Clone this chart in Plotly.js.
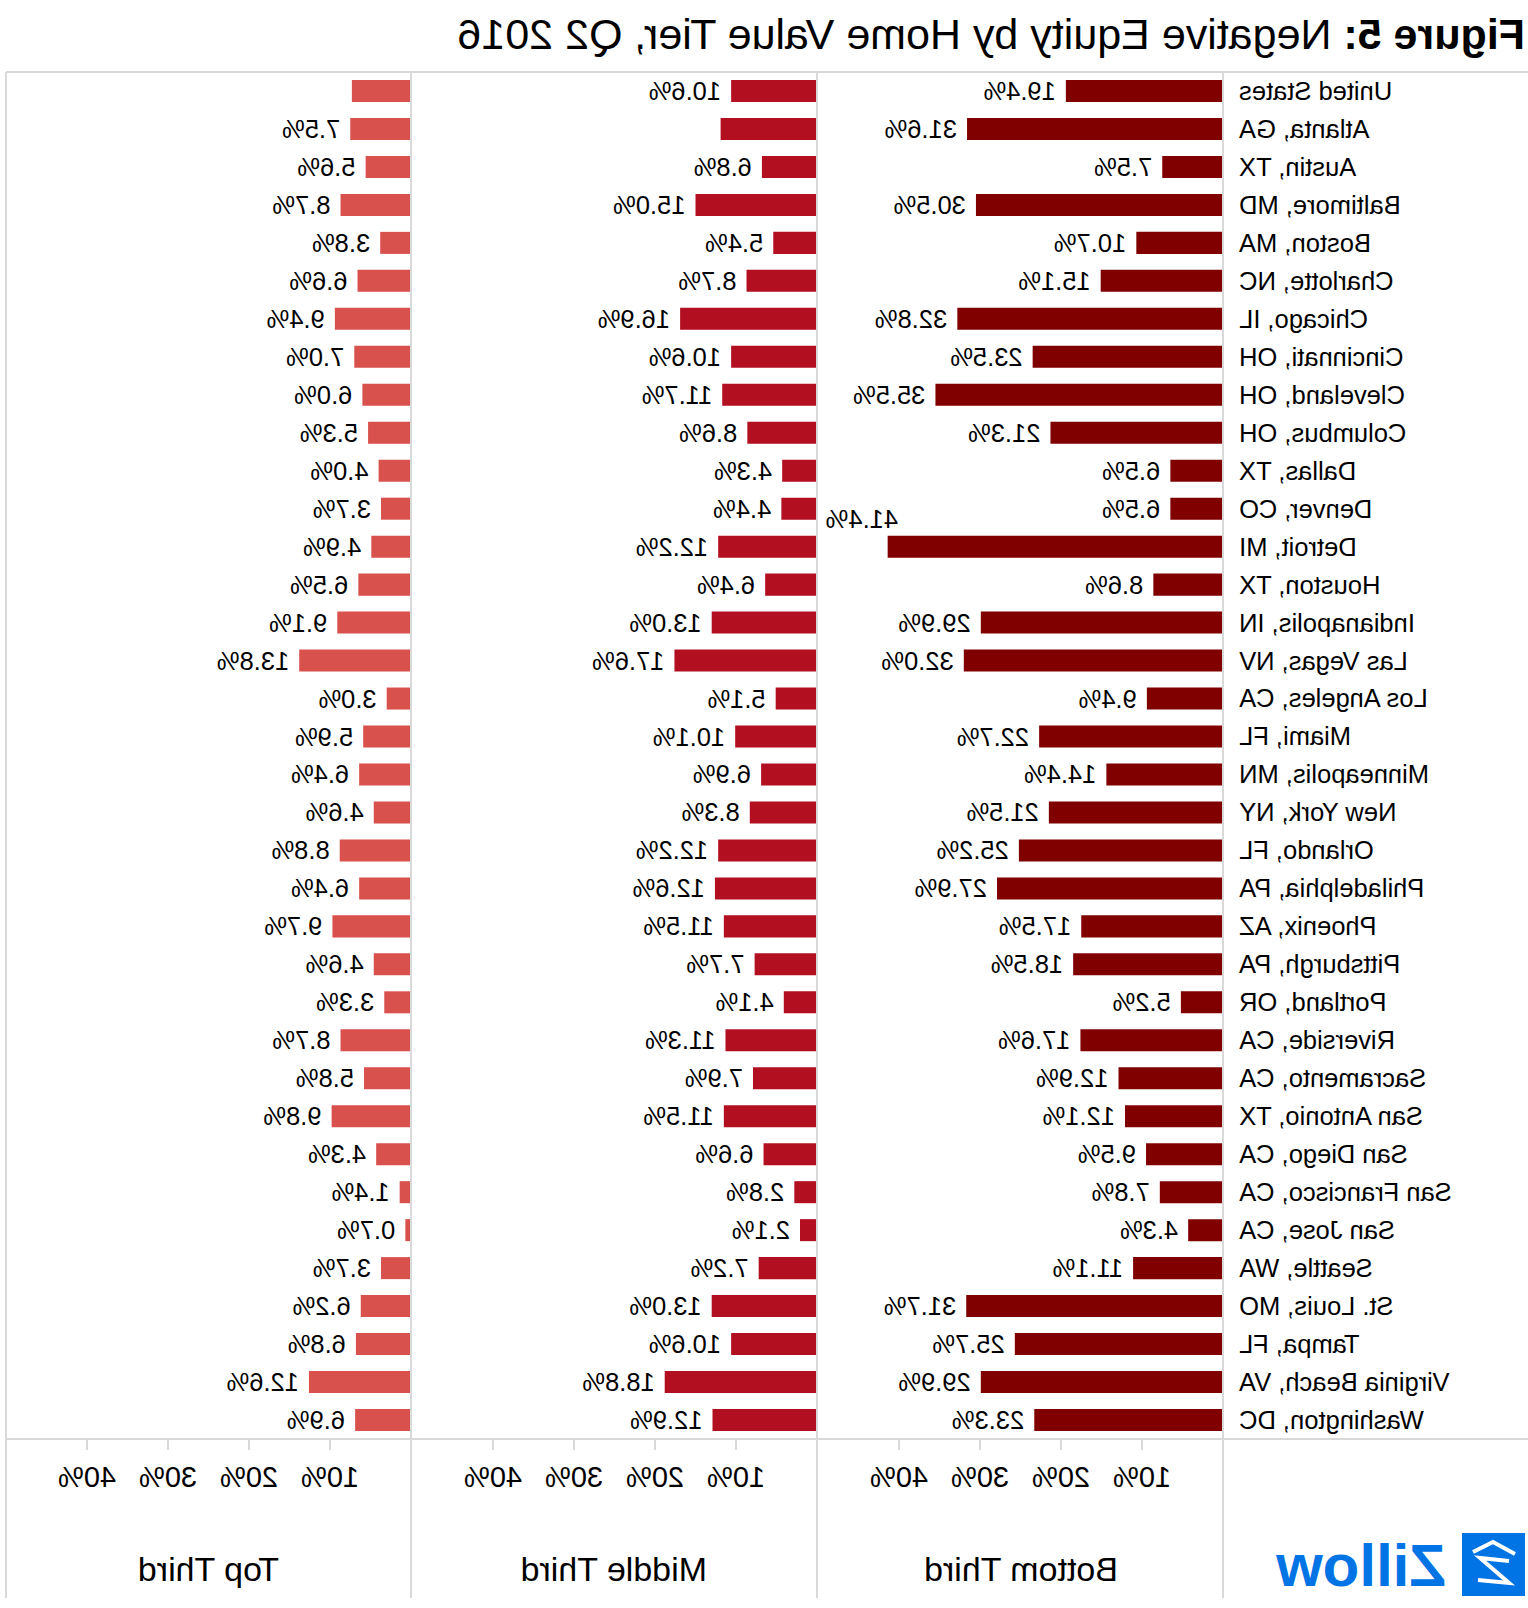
<!DOCTYPE html>
<html>
<head>
<meta charset="utf-8">
<script src="https://cdn.plot.ly/plotly-3.0.1.min.js"></script>
<style>
  body { margin: 0; background: #fff; }
  /* the reference picture is a mirror image, so flip the whole chart */
  #chart { width: 1528px; height: 1608px; transform: scaleX(-1); }
</style>
</head>
<body>
<div id="chart"></div>
<script>
var cities = ["United States", "Atlanta, GA", "Austin, TX", "Baltimore, MD", "Boston, MA",
  "Charlotte, NC", "Chicago, IL", "Cincinnati, OH", "Cleveland, OH", "Columbus, OH",
  "Dallas, TX", "Denver, CO", "Detroit, MI", "Houston, TX", "Indianapolis, IN",
  "Las Vegas, NV", "Los Angeles, CA", "Miami, FL", "Minneapolis, MN", "New York, NY",
  "Orlando, FL", "Philadelphia, PA", "Phoenix, AZ", "Pittsburgh, PA", "Portland, OR",
  "Riverside, CA", "Sacramento, CA", "San Antonio, TX", "San Diego, CA", "San Francisco, CA",
  "San Jose, CA", "Seattle, WA", "St. Louis, MO", "Tampa, FL", "Virginia Beach, VA",
  "Washington, DC"];

var bottomThird = [19.4, 31.6, 7.5, 30.5, 10.7, 15.1, 32.8, 23.5, 35.5, 21.3,
  6.5, 6.5, 41.4, 8.6, 29.9, 32.0, 9.4, 22.7, 14.4, 21.5,
  25.2, 27.9, 17.5, 18.5, 5.2, 17.6, 12.9, 12.1, 9.5, 7.8,
  4.3, 11.1, 31.7, 25.7, 29.9, 23.3];

var middleThird = [10.6, 11.9, 6.8, 15.0, 5.4, 8.7, 16.9, 10.6, 11.7, 8.6,
  4.3, 4.4, 12.2, 6.4, 13.0, 17.6, 5.1, 10.1, 6.9, 8.3,
  12.2, 12.6, 11.5, 7.7, 4.1, 11.3, 7.9, 11.5, 6.6, 2.8,
  2.1, 7.2, 13.0, 10.6, 18.8, 12.9];

var topThird = [7.3, 7.5, 5.6, 8.7, 3.8, 6.6, 9.4, 7.0, 6.0, 5.3,
  4.0, 3.7, 4.9, 6.5, 9.1, 13.8, 3.0, 5.9, 6.4, 4.6,
  8.8, 6.4, 9.7, 4.6, 3.3, 8.7, 5.8, 9.8, 4.3, 1.4,
  0.7, 3.7, 6.2, 6.8, 12.6, 6.9];

var tierNames = ["Bottom Third", "Middle Third", "Top Third"];
var tierColors = ["#800000", "#b20f20", "#d9514d"];
var tickVals = [10, 20, 30, 40];
var tickText = ["10%", "20%", "30%", "40%"];

var W = 1528, H = 1608;
function px(x) { return x / W; }
function py(y) { return 1 - y / H; }

function labels(vals) {
  return vals.map(v => "\u00a0" + v.toFixed(1) + "%");
}
var botText = labels(bottomThird);
var midText = labels(middleThird);
var topText = labels(topThird);
// labels that tableau dropped / moved
botText[12] = "";
midText[1] = "";
topText[0] = "";

var font = "Liberation Sans, Arial, sans-serif";

function barTrace(vals, txt, color, xa) {
  return {
    type: "bar",
    orientation: "h",
    x: vals,
    y: cities,
    xaxis: xa,
    yaxis: "y",
    text: txt,
    texttemplate: "%{text}",
    textposition: "outside",
    constraintext: "none",
    cliponaxis: false,
    outsidetextfont: {family: font, size: 25.5, color: "#000"},
    marker: {color: color},
    hoverinfo: "skip"
  };
}

var data = [
  barTrace(bottomThird, botText, tierColors[0], "x"),
  barTrace(middleThird, midText, tierColors[1], "x2"),
  barTrace(topThird, topText, tierColors[2], "x3")
];

var yTop = py(72), yBot = py(1439);
var panels = [[305, 710], [711, 1116], [1117, 1522]];

function xAxis(p) {
  return {
    domain: [px(p[0]), px(p[1])],
    anchor: "y",
    range: [0, 50],
    tickvals: tickVals,
    ticktext: tickText,
    ticks: "outside",
    ticklen: 10,
    tickwidth: 2,
    tickcolor: "#d9d9d9",
    ticklabelstandoff: 2,
    tickfont: {family: font, size: 29, color: "#000"},
    showgrid: false,
    zeroline: false,
    showline: false,
    fixedrange: true
  };
}

var lineStyle = {color: "#d9d9d9", width: 2};
var shapes = [
  {type: "line", xref: "paper", yref: "paper", x0: 0, x1: px(1522), y0: yTop, y1: yTop, line: lineStyle},
  {type: "line", xref: "paper", yref: "paper", x0: 0, x1: px(1522), y0: yBot, y1: yBot, line: lineStyle}
];
[305, 711, 1117, 1522].forEach(function (x) {
  shapes.push({type: "line", xref: "paper", yref: "paper", x0: px(x), x1: px(x),
    y0: py(1598), y1: yTop, line: lineStyle});
});

// zillow logo: blue square with a white roof and Z
shapes.push({type: "rect", xref: "paper", yref: "paper", x0: px(3), x1: px(66), y0: py(1596), y1: py(1533),
  fillcolor: "#0074e4", line: {width: 0}});
function path(pts) {
  return pts.map((p, i) => (i ? "L" : "M") + px(p[0]) + "," + py(p[1])).join(" ");
}
shapes.push({type: "path", xref: "paper", yref: "paper",
  path: path([[13, 1554], [35, 1542], [55, 1552]]), line: {color: "#fff", width: 4}});
shapes.push({type: "path", xref: "paper", yref: "paper",
  path: path([[19, 1561], [48, 1558], [19, 1583], [50, 1580]]), line: {color: "#fff", width: 4}});

var annotations = tierNames.map(function (name, i) {
  return {
    xref: "paper", yref: "paper",
    x: px((panels[i][0] + panels[i][1]) / 2), y: py(1569),
    text: name, showarrow: false,
    xanchor: "center", yanchor: "middle",
    font: {family: font, size: 34, color: "#000"}
  };
});
annotations.push({
  xref: "x", yref: "y", x: bottomThird[12], y: cities[12],
  text: bottomThird[12].toFixed(1) + "%", showarrow: false,
  xanchor: "left", yanchor: "middle", xshift: -12, yshift: 28,
  font: {family: font, size: 25.5, color: "#000"}
});
annotations.push({
  xref: "paper", yref: "paper", x: px(80), y: py(1565),
  text: "<b>Zillow</b>", showarrow: false,
  xanchor: "left", yanchor: "middle",
  font: {family: font, size: 60, color: "#0074e4"}
});

var layout = {
  width: W,
  height: H,
  margin: {l: 0, r: 0, t: 0, b: 0},
  paper_bgcolor: "#fff",
  plot_bgcolor: "rgba(0,0,0,0)",
  showlegend: false,
  bargap: 0.42,
  title: {
    text: "<b>Figure 5:</b> Negative Equity by Home Value Tier, Q2 2016",
    xref: "paper", x: px(3), xanchor: "left",
    yref: "container", y: py(34), yanchor: "middle",
    font: {family: font, size: 43, color: "#000"}
  },
  xaxis: xAxis(panels[0]),
  xaxis2: xAxis(panels[1]),
  xaxis3: xAxis(panels[2]),
  yaxis: {
    domain: [yBot, yTop],
    anchor: "x",
    type: "category",
    categoryorder: "array",
    categoryarray: cities,
    range: [35.5, -0.5],
    ticks: "outside",
    ticklen: 10,
    tickcolor: "rgba(0,0,0,0)",
    tickfont: {family: font, size: 25.5, color: "#000"},
    showgrid: false,
    zeroline: false,
    showline: false,
    fixedrange: true
  },
  shapes: shapes,
  annotations: annotations
};

Plotly.newPlot("chart", data, layout, {displayModeBar: false, staticPlot: true});
</script>
</body>
</html>
